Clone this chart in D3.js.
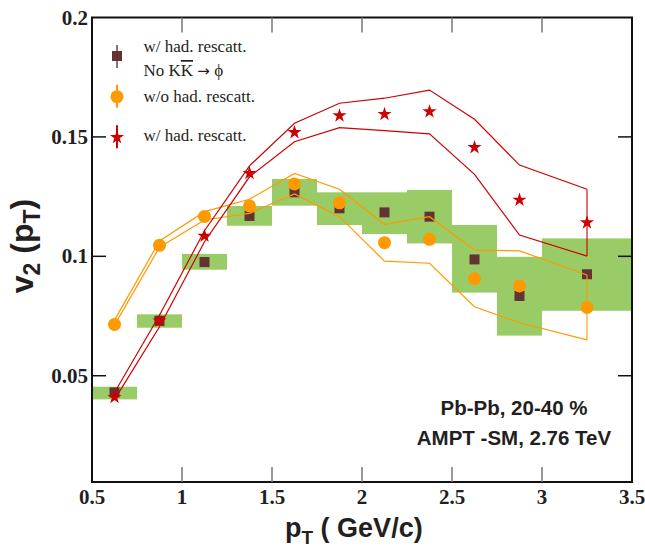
<!DOCTYPE html>
<html>
<head>
<meta charset="utf-8">
<script src="https://cdn.jsdelivr.net/npm/d3@7"></script>
<style>
  body { margin: 0; background: #fff; }
  .tick-label { font-family: "Liberation Serif", "Times New Roman", serif; font-weight: bold; font-size: 21px; fill: #231f20; }
  .legend-text { font-family: "Liberation Serif", "Times New Roman", serif; font-size: 17px; fill: #231f20; }
  .title { font-family: "Liberation Sans", Arial, sans-serif; font-weight: bold; fill: #231f20; }
</style>
</head>
<body>
<svg id="chart" width="645" height="553"></svg>
<script>
// bins of the green boxes
const binLo = [0.5, 0.75, 1.0, 1.25, 1.5, 1.75, 2.0, 2.25, 2.5, 2.75, 3.0]
const binHi = [0.75, 1.0, 1.25, 1.5, 1.75, 2.0, 2.25, 2.5, 2.75, 3.0, 3.5]
const boxLow = [0.0401, 0.0701, 0.0944, 0.1128, 0.1212, 0.1131, 0.1093, 0.1054, 0.0848, 0.0668, 0.0772]
const boxHigh = [0.0454, 0.0757, 0.1010, 0.1211, 0.1324, 0.1268, 0.1268, 0.1278, 0.1131, 0.0998, 0.1075]

// AMPT points
const ptCenters = [0.625, 0.875, 1.125, 1.375, 1.625, 1.875, 2.125, 2.375, 2.625, 2.875, 3.25]
const v2NoKK = [0.043, 0.073, 0.0976, 0.1169, 0.1268, 0.1201, 0.1184, 0.1166, 0.0987, 0.0834, 0.0925]
const v2NoRescatt = [0.0715, 0.1046, 0.1167, 0.1211, 0.1303, 0.1224, 0.1057, 0.1071, 0.0906, 0.0876, 0.0786]
const noRescattUp = [0.0733, 0.1064, 0.1187, 0.1239, 0.1347, 0.1281, 0.1134, 0.1166, 0.1026, 0.1023, 0.0922]
const noRescattLo = [0.0712, 0.1038, 0.1152, 0.1180, 0.1261, 0.1166, 0.0980, 0.0971, 0.0789, 0.0722, 0.0650]
const v2Rescatt = [0.041, 0.073, 0.1085, 0.1348, 0.1519, 0.1589, 0.1595, 0.1606, 0.1456, 0.1236, 0.1141]
const rescattUp = [0.043, 0.0753, 0.1107, 0.1379, 0.1557, 0.1641, 0.1662, 0.1696, 0.1574, 0.1382, 0.1281]
const rescattLo = [0.040, 0.0705, 0.1061, 0.1333, 0.1480, 0.1539, 0.1526, 0.1513, 0.1343, 0.1089, 0.1001]

const xTicks = [0.5, 1, 1.5, 2, 2.5, 3, 3.5]
const yTicks = [0.05, 0.1, 0.15, 0.2]
const legendLabels = ["w/ had. rescatt.", "w/o had. rescatt.", "w/ had. rescatt."]
const noteLines = ["Pb-Pb, 20-40 %", "AMPT -SM, 2.76 TeV"]

const svg = d3.select("#chart")
const margins = {left: 92, right: 13, top: 17.5, bottom: 71}
const width = +svg.attr("width")
const height = +svg.attr("height")

const x = d3.scaleLinear().domain([0.5, 3.5]).range([margins.left, width - margins.right])
const y = d3.scaleLinear().domain([0.0055, 0.2]).range([height - margins.bottom, margins.top])

const green = "#99cc66", brown = "#633333", orange = "#ff9900", red = "#cc0000"

// green boxes
svg.append("g").selectAll("rect")
  .data(binLo.map((lo, i) => ({lo, hi: binHi[i], low: boxLow[i], high: boxHigh[i]})))
  .join("rect")
  .attr("x", d => x(d.lo))
  .attr("width", d => x(d.hi) - x(d.lo))
  .attr("y", d => y(d.high))
  .attr("height", d => y(d.low) - y(d.high))
  .attr("fill", green)

// brown squares
svg.append("g").selectAll("rect")
  .data(ptCenters.map((p, i) => [p, v2NoKK[i]]))
  .join("rect")
  .attr("x", d => x(d[0]) - 5).attr("y", d => y(d[1]) - 5)
  .attr("width", 10).attr("height", 10)
  .attr("fill", brown)

// band lines
const line = d3.line().x(d => x(d[0])).y(d => y(d[1]))
function band(up, lo, color) {
  const g = svg.append("g").attr("fill", "none").attr("stroke", color).attr("stroke-width", 1.2)
  g.append("path").attr("d", line(ptCenters.map((p, i) => [p, up[i]])))
  g.append("path").attr("d", line(ptCenters.map((p, i) => [p, lo[i]])))
  // error bar of the last point
  const n = ptCenters.length - 1
  g.append("line")
    .attr("x1", x(ptCenters[n])).attr("x2", x(ptCenters[n]))
    .attr("y1", y(up[n])).attr("y2", y(lo[n]))
    .attr("stroke-width", 2).attr("stroke-opacity", 0.55)
}
band(noRescattUp, noRescattLo, orange)
band(rescattUp, rescattLo, red)

// orange circles
svg.append("g").selectAll("circle")
  .data(ptCenters.map((p, i) => [p, v2NoRescatt[i]]))
  .join("circle")
  .attr("cx", d => x(d[0])).attr("cy", d => y(d[1]))
  .attr("r", 6.5)
  .attr("fill", orange)

// red stars
const star = d3.symbol().type(d3.symbolStar).size(62)
svg.append("g").selectAll("path")
  .data(ptCenters.map((p, i) => [p, v2Rescatt[i]]))
  .join("path")
  .attr("d", star)
  .attr("transform", d => `translate(${x(d[0])},${y(d[1])})`)
  .attr("fill", red)

// frame
const x0 = x(0.5), x1 = x(3.5), y0 = y(0.0055), y1 = y(0.2)
svg.append("rect")
  .attr("x", x0).attr("y", y1)
  .attr("width", x1 - x0).attr("height", y0 - y1)
  .attr("fill", "none").attr("stroke", "#111").attr("stroke-width", 2)

// ticks
svg.append("g").selectAll("line")
  .data(xTicks.slice(1, -1))
  .join("line")
  .attr("x1", d => x(d)).attr("x2", d => x(d))
  .attr("y1", y0).attr("y2", y0 - 15)
  .attr("stroke", "#777").attr("stroke-width", 1.5)
svg.append("g").selectAll("line")
  .data(xTicks.slice(1, -1))
  .join("line")
  .attr("x1", d => x(d)).attr("x2", d => x(d))
  .attr("y1", y1).attr("y2", y1 + 15)
  .attr("stroke", "#777").attr("stroke-width", 1.5)
svg.append("g").selectAll("line")
  .data(yTicks.slice(0, -1))
  .join("line")
  .attr("x1", x0).attr("x2", x0 + 14)
  .attr("y1", d => y(d)).attr("y2", d => y(d))
  .attr("stroke", "#111").attr("stroke-width", 1.5)
svg.append("g").selectAll("line")
  .data(yTicks.slice(0, -1))
  .join("line")
  .attr("x1", x1).attr("x2", x1 - 14)
  .attr("y1", d => y(d)).attr("y2", d => y(d))
  .attr("stroke", "#111").attr("stroke-width", 1.5)

// tick labels
svg.append("g").selectAll("text")
  .data(xTicks)
  .join("text")
  .attr("class", "tick-label")
  .attr("x", d => x(d)).attr("y", y0 + 22)
  .attr("text-anchor", "middle")
  .text(d => d)
svg.append("g").selectAll("text")
  .data(yTicks)
  .join("text")
  .attr("class", "tick-label")
  .attr("x", x0 - 4).attr("y", d => y(d) + 7)
  .attr("text-anchor", "end")
  .text(d => d)

// axis titles
const xt = svg.append("text").attr("class", "title")
  .attr("x", 285).attr("y", 537)
  .style("font-size", "27px")
xt.append("tspan").text("p")
xt.append("tspan").attr("dy", 7).style("font-size", "19px").text("T")
xt.append("tspan").attr("dy", -7).text(" ( GeV/c)")

const yt = svg.append("text").attr("class", "title")
  .attr("transform", "rotate(-90)")
  .attr("x", -246).attr("y", 33)
  .attr("text-anchor", "middle")
  .style("font-size", "32px")
yt.append("tspan").text("v")
yt.append("tspan").attr("dy", 7).style("font-size", "23px").text("2")
yt.append("tspan").attr("dy", -7).text(" (p")
yt.append("tspan").attr("dy", 7).style("font-size", "23px").text("T")
yt.append("tspan").attr("dy", -7).text(")")

// legend
const lx = 117
const legendY = [56, 96.7, 137.3]
const lg = svg.append("g")
lg.append("line").attr("x1", lx).attr("x2", lx).attr("y1", legendY[0] - 11).attr("y2", legendY[0] + 12)
  .attr("stroke", brown).attr("stroke-width", 2).attr("stroke-opacity", 0.7)
lg.append("rect").attr("x", lx - 5).attr("y", legendY[0] - 5).attr("width", 10).attr("height", 10).attr("fill", brown)
lg.append("line").attr("x1", lx).attr("x2", lx).attr("y1", legendY[1] - 12).attr("y2", legendY[1] + 11)
  .attr("stroke", orange).attr("stroke-width", 2)
lg.append("circle").attr("cx", lx).attr("cy", legendY[1]).attr("r", 6.5).attr("fill", orange)
lg.append("line").attr("x1", lx).attr("x2", lx).attr("y1", legendY[2] - 12).attr("y2", legendY[2] + 11)
  .attr("stroke", red).attr("stroke-width", 2)
lg.append("path").attr("d", star).attr("transform", `translate(${lx},${legendY[2]})`).attr("fill", red)

lg.append("text").attr("class", "legend-text").attr("x", 143.5).attr("y", 52).text(legendLabels[0])
const kk = lg.append("text").attr("class", "legend-text").attr("x", 143.5).attr("y", 76)
kk.append("tspan").text("No K")
kk.append("tspan").style("text-decoration", "overline").text("K")
kk.append("tspan").text(" ")
kk.append("tspan").style("font-family", "DejaVu Sans").style("font-size", "15px").text("\u2192")
kk.append("tspan").text(" \u03d5")
lg.append("text").attr("class", "legend-text").attr("x", 143.5).attr("y", 101.7).text(legendLabels[1])
lg.append("text").attr("class", "legend-text").attr("x", 143.5).attr("y", 140.7).text(legendLabels[2])

// annotation
svg.append("g").selectAll("text")
  .data(noteLines)
  .join("text")
  .attr("class", "title")
  .attr("x", 514).attr("y", (d, i) => 415 + i * 30)
  .attr("text-anchor", "middle")
  .style("font-size", "20.5px")
  .text(d => d)
</script>
</body>
</html>
